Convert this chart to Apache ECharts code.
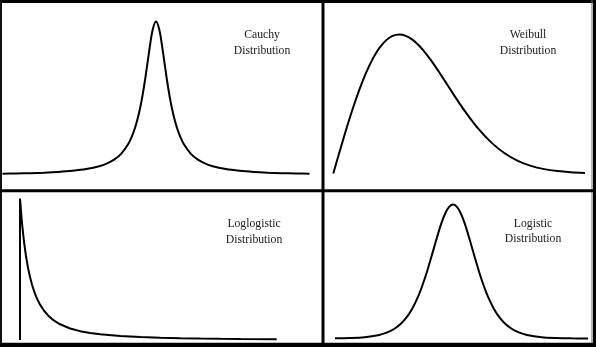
<!DOCTYPE html>
<html>
<head>
<meta charset="utf-8">
<script src="https://cdn.jsdelivr.net/npm/echarts@6/dist/echarts.min.js"></script>
<style>
html,body{margin:0;padding:0;background:#fff;}
#chart{width:596px;height:347px;}
</style>
</head>
<body>
<div id="chart"></div>
<script>
// ---- Data (arbitrary density units) ----
const cauchyX = [-11,-10,-9,-8,-7,-6,-5,-4,-3.5,-3,-2.5,-2,-1.75,-1.5,-1.25,-1,-0.75,-0.5,-0.25,0,0.25,0.5,0.75,1,1.25,1.5,1.75,2,2.5,3,3.5,4,5,6,7,8,9,10,11];
const cauchyY = [0.0082,0.0099,0.0122,0.0154,0.02,0.027,0.0385,0.0588,0.0755,0.1,0.1379,0.2,0.2462,0.3077,0.3902,0.5,0.64,0.8,0.9412,1,0.9412,0.8,0.64,0.5,0.3902,0.3077,0.2462,0.2,0.1379,0.1,0.0755,0.0588,0.0385,0.027,0.02,0.0154,0.0122,0.0099,0.0082];

const weibullX = [0,0.1,0.2,0.3,0.4,0.5,0.6,0.7,0.8,0.9,1.0,1.1,1.2,1.3,1.4,1.5,1.6,1.7,1.8,1.9,2.0,2.2,2.4,2.6,2.8,3.0,3.2,3.4,3.6,3.82];
const weibullY = [0,0.0995,0.196,0.2868,0.3692,0.4412,0.5012,0.5478,0.5809,0.6003,0.6065,0.6007,0.5841,0.5585,0.5254,0.487,0.4448,0.4007,0.3562,0.3125,0.2707,0.1956,0.1347,0.0885,0.0555,0.0333,0.0191,0.0105,0.0055,0.0026];

const loglogX = [0,0,0.1,0.2,0.3,0.4,0.5,0.6,0.7,0.8,0.9,1.0,1.2,1.4,1.6,1.8,2.0,2.5,3,3.5,4,5,6,7,8,9,10,11,12.8];
const loglogY = [0,1,0.8264,0.6944,0.5917,0.5102,0.4444,0.3906,0.346,0.3086,0.277,0.25,0.2066,0.1736,0.1479,0.1276,0.1111,0.0816,0.0625,0.0494,0.04,0.0278,0.0204,0.0156,0.0123,0.01,0.0083,0.0069,0.0053];

const logisticX = [-8,-7,-6,-5,-4.5,-4,-3.5,-3,-2.75,-2.5,-2.25,-2,-1.75,-1.5,-1.25,-1,-0.75,-0.5,-0.25,0,0.25,0.5,0.75,1,1.25,1.5,1.75,2,2.25,2.5,2.75,3,3.5,4,4.5,5,6,7,8,9.15];
const logisticY = [0.0013,0.0037,0.0099,0.0266,0.0435,0.0707,0.1138,0.1807,0.2257,0.2804,0.3445,0.42,0.5041,0.5966,0.6922,0.7865,0.8716,0.94,0.9845,1,0.9845,0.94,0.8716,0.7865,0.6922,0.5966,0.5041,0.42,0.3445,0.2804,0.2257,0.1807,0.1138,0.0707,0.0435,0.0266,0.0099,0.0037,0.0013,0.0004];

const labels = [["Cauchy","Distribution"],["Weibull","Distribution"],["Loglogistic","Distribution"],["Logistic","Distribution"]];

// ---- Build ----
function zip(xs, ys){ return xs.map((x,i)=>[x, ys[i]]); }

const panels = [
  {grid:{left:2.5, top:21.5, width:307, height:153.5}, xmin:-11, xmax:11, ymax:1, data:zip(cauchyX,cauchyY), smooth:0.3},
  {grid:{left:333.3, top:34.5, width:251.7, height:139}, xmin:0, xmax:3.82, ymax:0.6065, data:zip(weibullX,weibullY), smooth:0.3},
  {grid:{left:20, top:198.5, width:256.7, height:141.5}, xmin:0, xmax:12.8, ymax:1, data:zip(loglogX,loglogY), smooth:false},
  {grid:{left:335, top:204.5, width:253, height:134}, xmin:-8, xmax:9.15, ymax:1, data:zip(logisticX,logisticY), smooth:0.3}
];

const labelPos = [
  {x:262, y1:35, y2:51},
  {x:528, y1:35, y2:51},
  {x:254, y1:224.3, y2:239.5},
  {x:533, y1:224.3, y2:238.8}
];

const textStyleBase = {fill:'#1a1a1a', font:'11.7px "Liberation Serif", "DejaVu Serif", serif', align:'center', verticalAlign:'middle'};

const graphics = [];
// outer frame
graphics.push({type:'line', shape:{x1:0, y1:1.5, x2:596, y2:1.5}, style:{stroke:'#000', lineWidth:3}, z:10});
graphics.push({type:'line', shape:{x1:1, y1:0, x2:1, y2:347}, style:{stroke:'#111', lineWidth:2}, z:10});
graphics.push({type:'line', shape:{x1:592, y1:0, x2:592, y2:347}, style:{stroke:'#666', lineWidth:1}, z:10});
graphics.push({type:'rect', shape:{x:593, y:0, width:3, height:347}, style:{fill:'#000'}, z:10});
graphics.push({type:'rect', shape:{x:0, y:342.7, width:596, height:4.3}, style:{fill:'#000'}, z:10});
// dividers
graphics.push({type:'line', shape:{x1:323, y1:0, x2:323, y2:347}, style:{stroke:'#000', lineWidth:3}, z:10});
graphics.push({type:'line', shape:{x1:0, y1:190.7, x2:596, y2:190.7}, style:{stroke:'#000', lineWidth:3}, z:10});
// labels
labels.forEach((pair,i)=>{
  const p = labelPos[i];
  graphics.push({type:'text', x:p.x, y:p.y1, style:Object.assign({text:pair[0]}, textStyleBase), z:11});
  graphics.push({type:'text', x:p.x, y:p.y2, style:Object.assign({text:pair[1]}, textStyleBase), z:11});
});

const option = {
  animation:false,
  backgroundColor:'#ffffff',
  grid: panels.map(p=>Object.assign({containLabel:false}, p.grid)),
  xAxis: panels.map((p,i)=>({type:'value', gridIndex:i, min:p.xmin, max:p.xmax, show:false})),
  yAxis: panels.map((p,i)=>({type:'value', gridIndex:i, min:0, max:p.ymax, show:false})),
  series: panels.map((p,i)=>({
    type:'line', xAxisIndex:i, yAxisIndex:i, data:p.data, showSymbol:false, symbol:'none',
    smooth:p.smooth, clip:false, lineStyle:{color:'#000', width:2}, silent:true
  })),
  graphic: graphics
};

const chart = echarts.init(document.getElementById('chart'), null, {renderer:'canvas'});
chart.setOption(option);
</script>
</body>
</html>
